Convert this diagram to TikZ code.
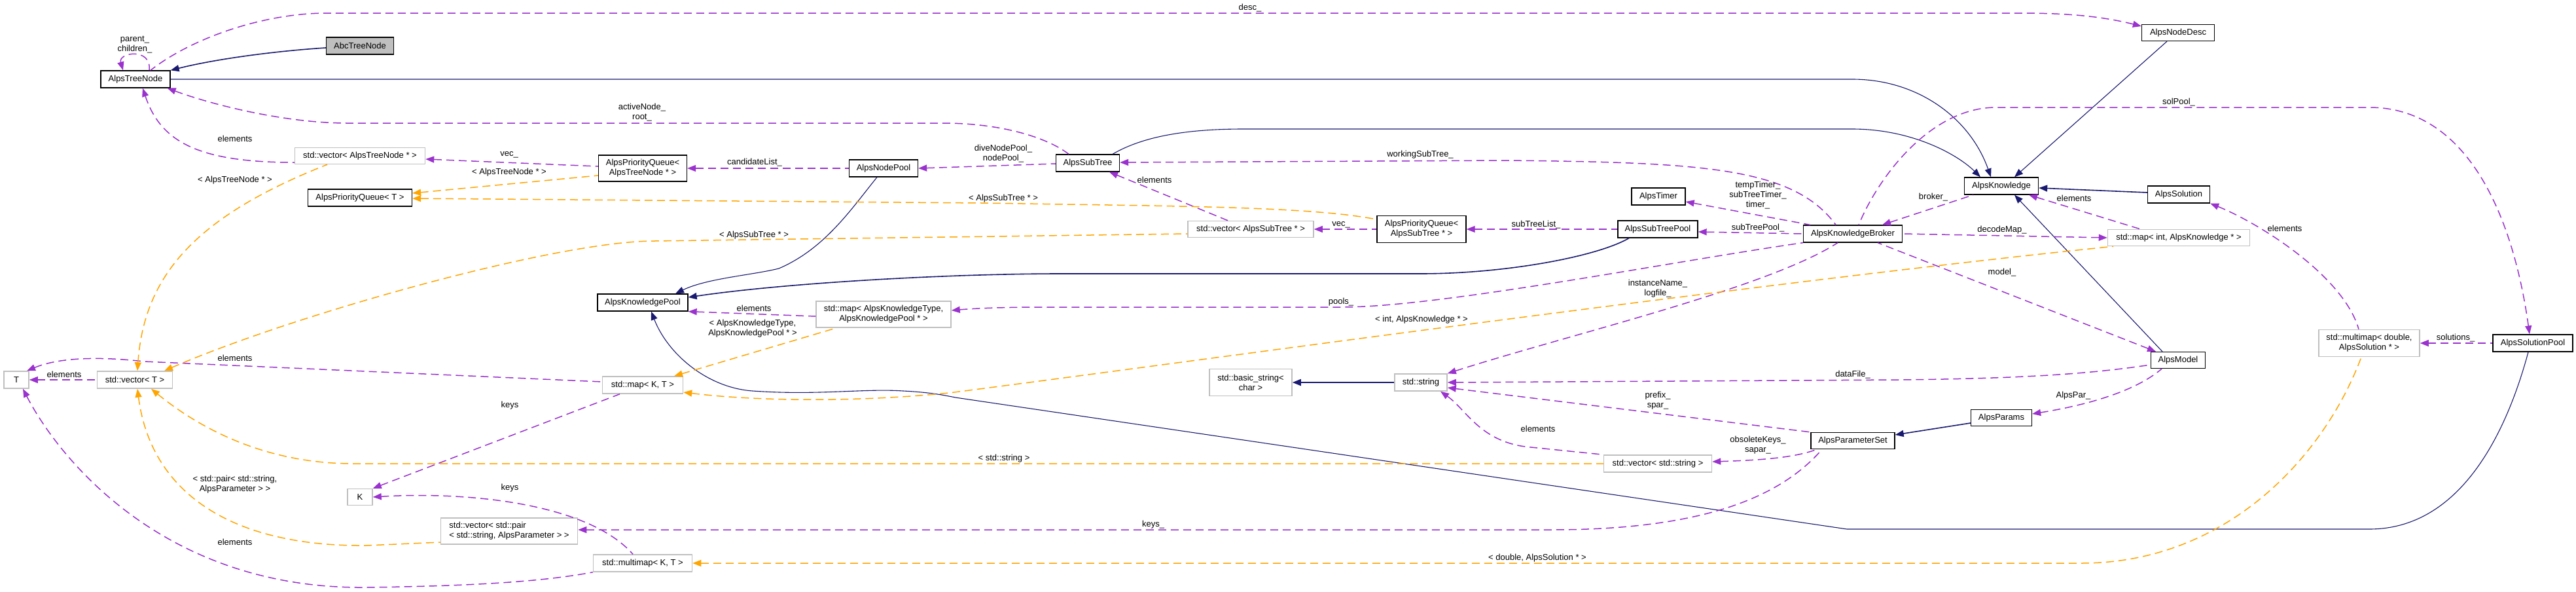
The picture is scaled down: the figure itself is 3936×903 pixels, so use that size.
\documentclass[tikz,border=0pt]{standalone}
\usepackage{fontspec}
\setmainfont{Liberation Sans}
\usetikzlibrary{arrows.meta}
\definecolor{navy}{HTML}{191970}
\definecolor{purp}{HTML}{9A32CD}
\definecolor{orng}{HTML}{FFA500}
\definecolor{gbox}{HTML}{BFBFBF}
\newcommand{\fnt}{\fontsize{13}{15}\selectfont}
\begin{document}
\begin{tikzpicture}[x=1pt,y=-1pt,
  >={Triangle[length=13pt,width=10pt]},
  cls/.style={draw=black, line width=1.3pt, fill=white, inner sep=2pt, font=\fnt, align=center},
  ext/.style={draw=gbox, line width=1.5pt, fill=white, inner sep=2pt, font=\fnt, align=center},
  inh/.style={draw=navy, line width=1.1pt, <-},
  use/.style={draw=purp, line width=1.5pt, dash pattern=on 12pt off 7pt, <-},
  tpl/.style={draw=orng, line width=1.5pt, dash pattern=on 12pt off 7pt, <-},
  lbl/.style={font=\fnt, align=center, inner sep=0pt}]
\useasboundingbox (0,0) rectangle (3936,903);
\fill[white] (0,0) rectangle (3936,903);

% nodes
\node[cls,fill=gbox,minimum width=103pt,minimum height=26pt] (abc) at (550,70) {AbcTreeNode};
\node[cls,minimum width=106pt,minimum height=26pt] (tn) at (207,121) {AlpsTreeNode};
\node[ext,minimum width=199pt,minimum height=25pt] (vtn) at (550,238) {std::vector< AlpsTreeNode * >};
\node[cls,minimum width=159pt,minimum height=26pt] (pqt) at (550,302) {AlpsPriorityQueue< T >};
\node[cls,minimum width=135pt,minimum height=40pt] (pqtn) at (982,257) {AlpsPriorityQueue<\\AlpsTreeNode * >};
\node[cls,minimum width=105pt,minimum height=26pt] (np) at (1350,257) {AlpsNodePool};
\node[cls,minimum width=97pt,minimum height=26pt] (st) at (1662,249) {AlpsSubTree};
\node[cls,minimum width=138pt,minimum height=26pt] (kp) at (982,462) {AlpsKnowledgePool};
\node[ext,minimum width=206pt,minimum height=40pt] (mkp) at (1350,480) {std::map< AlpsKnowledgeType,\\AlpsKnowledgePool * >};
\node[ext,minimum width=192pt,minimum height=25pt] (vst) at (1911,350) {std::vector< AlpsSubTree * >};
\node[cls,minimum width=136pt,minimum height=41pt] (pqst) at (2172,350) {AlpsPriorityQueue<\\AlpsSubTree * >};
\node[cls,minimum width=122pt,minimum height=26pt] (stp) at (2533,350) {AlpsSubTreePool};
\node[cls,minimum width=82pt,minimum height=26pt] (tim) at (2534,300) {AlpsTimer};
\node[cls,minimum width=151pt,minimum height=26pt] (kb) at (2831,357) {AlpsKnowledgeBroker};
\node[cls,minimum width=113pt,minimum height=26pt] (kn) at (3058,284) {AlpsKnowledge};
\node[cls,minimum width=111pt,minimum height=25pt] (nd) at (3328,50) {AlpsNodeDesc};
\node[cls,minimum width=95pt,minimum height=26pt] (sol) at (3329,297) {AlpsSolution};
\node[ext,minimum width=217pt,minimum height=25pt] (mik) at (3329,363) {std::map< int, AlpsKnowledge * >};
\node[cls,minimum width=83pt,minimum height=25pt] (mod) at (3328,550) {AlpsModel};
\node[ext,minimum width=154pt,minimum height=41pt] (mds) at (3620,524) {std::multimap< double,\\AlpsSolution * >};
\node[cls,minimum width=122pt,minimum height=26pt] (sp) at (3870,524) {AlpsSolutionPool};
\node[cls,minimum width=93pt,minimum height=25pt] (par) at (3058,638) {AlpsParams};
\node[cls,minimum width=128pt,minimum height=25pt] (ps) at (2831,673) {AlpsParameterSet};
\node[ext,minimum width=165pt,minimum height=26pt] (vs) at (2533,708) {std::vector< std::string >};
\node[ext,minimum width=80pt,minimum height=26pt] (str) at (2171,584) {std::string};
\node[ext,minimum width=126pt,minimum height=41pt] (bs) at (1911,584) {std::basic\_string<\\char >};
\node[ext,minimum width=123pt,minimum height=26pt] (mkt) at (982,588) {std::map< K, T >};
\node[ext,minimum width=38pt,minimum height=26pt] (T) at (25,580) {T};
\node[ext,minimum width=115pt,minimum height=26pt] (vt) at (206,580) {std::vector< T >};
\node[ext,minimum width=38pt,minimum height=25pt] (K) at (550,759) {K};
\node[ext,minimum width=209pt,minimum height=40pt,align=left] (vp) at (778,811) {std::vector< std::pair\\< std::string, AlpsParameter > >};
\node[ext,minimum width=151pt,minimum height=26pt] (mmkt) at (982,860) {std::multimap< K, T >};

% inheritance
\draw[inh,line width=1.6pt] (tn.north east) .. controls (330,90) and (420,78) .. ([yshift=-3pt]abc.west);
\draw[inh] ([xshift=-16pt]kn.north) .. controls (3010,180) and (2930,121) .. (2830,121) -- (tn.east);
\draw[inh] ([xshift=-32pt]kn.north) .. controls (2990,235) and (2920,197) .. (2830,197) -- (1900,197) .. controls (1800,197) and (1740,212) .. ([xshift=38pt]st.north);
\draw[inh] ([xshift=20pt]kn.north) -- ([xshift=-17pt]nd.south);
\draw[inh,line width=1.6pt] ([yshift=-3pt]kn.east) -- ([yshift=3pt]sol.west);
\draw[inh] ([xshift=20pt]kn.south) -- ([xshift=-24pt]mod.north);
\draw[inh] ([xshift=50pt]kp.north) .. controls (1080,425) and (1150,420) .. (1190,410) .. controls (1260,380) and (1300,320) .. ([xshift=-10pt]np.south);
\draw[inh,line width=1.6pt] ([yshift=8pt]kp.east) .. controls (1200,432) and (1450,418) .. (1620,418) -- (2170,418) .. controls (2300,418) and (2440,392) .. ([xshift=-44pt]stp.south);
\draw[inh] ([xshift=13pt]kp.south) .. controls (1020,540) and (1080,592) .. (1150,597) .. controls (1250,604) and (1320,593) .. (1380,597) .. controls (1420,599) and (1440,603) .. (1460,607) -- (2822,808) -- (3620,808) .. controls (3760,808) and (3830,660) .. ([xshift=-7pt]sp.south);
\draw[inh,line width=1.6pt] ([yshift=9pt]ps.east) -- ([yshift=-8pt]par.west);
\draw[inh,line width=1.8pt] (bs.east) -- (str.west);

% usage
\draw[use] ([xshift=-19pt]tn.north) .. controls (180,80) and (232,72) .. ([xshift=21pt]tn.north);
\draw[use] ([yshift=10pt]nd.west) .. controls (3200,22) and (3140,20) .. (3080,20) -- (500,20) .. controls (400,20) and (290,60) .. ([xshift=23pt]tn.north);
\draw[use] ([xshift=11pt]tn.south) .. controls (245,215) and (300,248) .. ([yshift=-10pt]vtn.west);
\draw[use] ([xshift=-5pt]tn.south east) .. controls (330,162) and (440,188) .. (530,188) -- (1440,188) .. controls (1530,188) and (1600,210) .. ([xshift=-29pt]st.north);
\draw[use] ([yshift=-5pt]vtn.east) -- ([yshift=3pt]pqtn.west);
\draw[use] (pqtn.east) -- (np.west);
\draw[use] (np.east) -- ([yshift=-1pt]st.west);
\draw[use] ([yshift=1pt]st.east) -- (2300,245) .. controls (2600,248) and (2740,255) .. ([xshift=-26pt]kb.north);
\draw[use] ([xshift=33pt]st.south) -- ([xshift=-35pt]vst.north);
\draw[use] (vst.east) -- (pqst.west);
\draw[use] (pqst.east) -- (stp.west);
\draw[use] ([yshift=-8pt]tim.east) -- ([xshift=-65pt]kb.north);
\draw[use] ([yshift=-4pt]stp.east) -- (kb.west);
\draw[use] ([xshift=45pt]kb.north) -- ([xshift=-43pt]kn.south);
\draw[use] ([yshift=6pt]mkp.east) .. controls (1500,470) and (1550,469) .. (1600,469) -- (2050,469) .. controls (2200,469) and (2550,400) .. (kb.south west);
\draw[use] (kp.south east) -- ([yshift=-3pt]mkp.west);
\draw[use] (str.north east) .. controls (2400,510) and (2700,440) .. ([xshift=-23pt]kb.south);
\draw[use] (mik.west) -- (kb.east);
\draw[use] ([xshift=-34pt]mod.north) -- ([xshift=38pt]kb.south);
\draw[use] (str.east) -- (2900,580) .. controls (3100,578) and (3200,570) .. ([yshift=-7pt]mod.west);
\draw[use] ([yshift=-8pt]str.east) -- (ps.north west);
\draw[use] ([xshift=30pt]str.south) .. controls (2240,625) and (2260,672) .. (2330,682) -- (vs.north west);
\draw[use] ([yshift=3pt]vs.east) .. controls (2680,703) and (2740,700) .. ([xshift=-55pt]ps.south);
\draw[use] ([yshift=2pt]vp.east) -- (2370,809) .. controls (2600,809) and (2720,760) .. ([xshift=-47pt]ps.south);
\draw[use] ([yshift=6pt]par.east) .. controls (3180,620) and (3260,600) .. ([xshift=-25pt]mod.south);
\draw[use] ([xshift=42pt]kn.south) -- ([xshift=-59pt]mik.north);
\draw[use] (sol.south east) .. controls (3450,340) and (3580,420) .. ([xshift=-16pt]mds.north);
\draw[use] (mds.east) -- (sp.west);
\draw[use] ([xshift=-5pt]sp.north) .. controls (3840,330) and (3770,164) .. (3620,164) -- (3050,164) .. controls (2950,164) and (2870,270) .. ([xshift=9pt]kb.north);
\draw[use] ([xshift=16pt]T.north) .. controls (90,546) and (150,544) .. (220,552) -- ([yshift=5pt]mkt.west);
\draw[use] (T.east) -- (vt.west);
\draw[use] (K.north east) -- ([xshift=-35pt]mkt.south);
\draw[use] (K.east) .. controls (720,750) and (900,770) .. ([xshift=-15pt]mmkt.north);
\draw[use] ([xshift=10pt]T.south) .. controls (90,700) and (250,900) .. (560,897) .. controls (700,895) and (820,890) .. (mmkt.south west);

% templates
\draw[tpl] ([xshift=4pt]vt.north) .. controls (220,420) and (300,330) .. ([xshift=-50pt]vtn.south);
\draw[tpl] ([yshift=7pt]pqt.east) -- ([yshift=-11pt]pqtn.west);
\draw[tpl] ([yshift=-1pt]pqt.east) -- (1500,310) .. controls (1800,315) and (2000,315) .. ([yshift=15pt]pqst.west);
\draw[tpl] ([xshift=45pt]vt.north) .. controls (450,480) and (850,368) .. (1000,368) -- ([yshift=-7pt]vst.west);
\draw[tpl] ([xshift=48pt]mkt.north) -- ([xshift=-72pt]mkp.south);
\draw[tpl] ([yshift=-11pt]mkt.east) .. controls (1150,612) and (1300,615) .. (1450,600) .. controls (1800,555) and (2700,430) .. ([xshift=-100pt]mik.south);
\draw[tpl] ([xshift=25pt]vt.south) .. controls (300,650) and (400,708) .. (540,708) -- (vs.west);
\draw[tpl] ([xshift=4pt]vt.south) .. controls (230,750) and (350,835) .. (560,833) -- ([yshift=-17pt]vp.west);
\draw[tpl] (mmkt.east) -- (3180,860) .. controls (3400,860) and (3550,700) .. ([xshift=-12pt]mds.south);

% labels
\node[lbl] (l1) at (206,68) {parent\_\\children\_};
\node[lbl] (l2) at (1910,12) {desc\_};
\node[lbl] (l3) at (981,172) {activeNode\_\\root\_};
\node[lbl] (l4) at (359,212) {elements};
\node[lbl] (l5) at (359,275) {< AlpsTreeNode * >};
\node[lbl] (l6) at (778,236) {vec\_};
\node[lbl] (l7) at (778,263) {< AlpsTreeNode * >};
\node[lbl] (l8) at (1153,248) {candidateList\_};
\node[lbl] (l9) at (1533,235) {diveNodePool\_\\nodePool\_};
\node[lbl] (l10) at (2170,236) {workingSubTree\_};
\node[lbl] (l11) at (1764,275) {elements};
\node[lbl] (l12) at (1533,303) {< AlpsSubTree * >};
\node[lbl] (l13) at (1152,359) {< AlpsSubTree * >};
\node[lbl] (l14) at (2049,343) {vec\_};
\node[lbl] (l15) at (2347,343) {subTreeList\_};
\node[lbl] (l16) at (2686,298) {tempTimer\_\\subTreeTimer\_\\timer\_};
\node[lbl] (l17) at (2686,348) {subTreePool\_};
\node[lbl] (l18) at (2954,301) {broker\_};
\node[lbl] (l19) at (3169,303) {elements};
\node[lbl] (l20) at (3059,351) {decodeMap\_};
\node[lbl] (l21) at (3491,349) {elements};
\node[lbl] (l22) at (3329,156) {solPool\_};
\node[lbl] (l23) at (3059,416) {model\_};
\node[lbl] (l24) at (2049,461) {pools\_};
\node[lbl] (l25) at (2533,441) {instanceName\_\\logfile\_};
\node[lbl] (l26) at (2172,488) {< int, AlpsKnowledge * >};
\node[lbl] (l27) at (1152,471) {elements};
\node[lbl] (l28) at (1150,502) {< AlpsKnowledgeType,\\AlpsKnowledgePool * >};
\node[lbl] (l29) at (3752,516) {solutions\_};
\node[lbl] (l30) at (2831,572) {dataFile\_};
\node[lbl] (l31) at (3168,604) {AlpsPar\_};
\node[lbl] (l32) at (2533,612) {prefix\_\\spar\_};
\node[lbl] (l33) at (2350,655) {elements};
\node[lbl] (l34) at (2686,680) {obsoleteKeys\_\\sapar\_};
\node[lbl] (l35) at (1534,700) {< std::string >};
\node[lbl] (l36) at (1762,801) {keys\_};
\node[lbl] (l37) at (2349,852) {< double, AlpsSolution * >};
\node[lbl] (l38) at (98,572) {elements};
\node[lbl] (l39) at (359,547) {elements};
\node[lbl] (l40) at (779,619) {keys};
\node[lbl] (l41) at (359,740) {< std::pair< std::string,\\AlpsParameter > >};
\node[lbl] (l42) at (779,745) {keys};
\node[lbl] (l43) at (359,828) {elements};
\end{tikzpicture}
\end{document}
